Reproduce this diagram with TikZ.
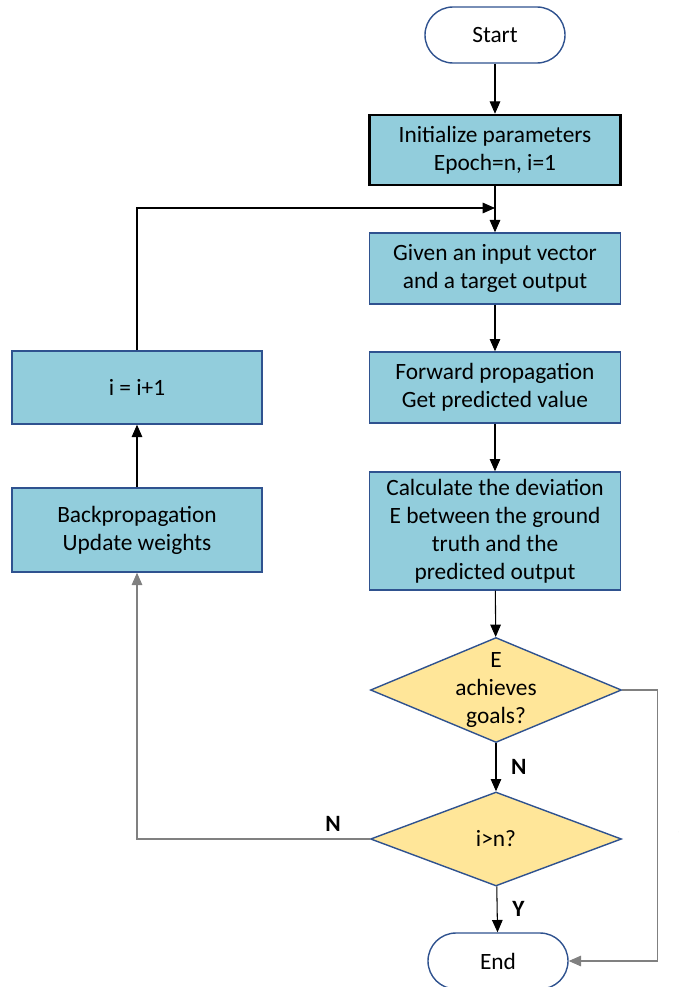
\documentclass[tikz,border=0pt]{standalone}
\usepackage{fontspec}
\setmainfont{Carlito}
\usetikzlibrary{shapes.geometric,arrows.meta}
\definecolor{boxfill}{RGB}{146,205,220}
\definecolor{boxline}{RGB}{47,82,143}
\definecolor{decfill}{RGB}{255,230,153}
\definecolor{graylink}{RGB}{128,128,128}

\begin{document}
\begin{tikzpicture}[
    every node/.style={font=\fontsize{13.3}{16}\selectfont},
    terminal/.style={draw=boxline, line width=0.8pt, rounded corners=0.56cm, fill=white,
        minimum width=2.8cm, minimum height=1.12cm},
    process/.style={draw=boxline, line width=0.8pt, fill=boxfill, align=center,
        minimum width=5.02cm, inner sep=2pt},
    decision/.style={draw=boxline, line width=0.8pt, fill=decfill, diamond, inner sep=0pt,
        minimum width=5.02cm},
    link/.style={line width=0.6pt, -{Triangle[width=6pt,length=7pt]}},
    flag/.style={font=\fontsize{13.3}{16}\selectfont\bfseries}
]
    \useasboundingbox (0,0) rectangle (13.58,-19.74);

    % Main column
    \node[terminal] (start) at (9.9,-0.7) {Start};
    \node[process, draw=black, line width=1.4pt, minimum height=1.4cm] (init) at (9.9,-3.0)
        {Initialize parameters\\Epoch=n, i=1};
    \coordinate (join) at (9.9,-4.16);
    \node[process, minimum height=1.42cm] (input) at (9.9,-5.37)
        {Given an input vector\\and a target output};
    \node[process, minimum height=1.42cm] (forward) at (9.9,-7.75)
        {Forward propagation\\Get predicted value};
    \node[process, minimum height=2.36cm] (deviation) at (9.9,-10.62)
        {Calculate the deviation\\E between the ground\\truth and the\\predicted output};
    \node[decision, minimum height=2.1cm,
        label={[align=center]center:E\\achieves\\goals?}] (goal) at (9.92,-13.8) {};
    \node[decision, minimum height=1.88cm,
        label={center:i>n?}] (epoch) at (9.92,-16.78) {};
    \node[terminal] (end) at (9.96,-19.22) {End};

    % Left column
    \node[process, minimum width=5.0cm, minimum height=1.46cm] (inc) at (2.74,-7.75) {i = i+1};
    \node[process, minimum width=5.0cm, minimum height=1.68cm] (back) at (2.74,-10.6)
        {Backpropagation\\Update weights};

    % Arrows
    \draw[link] (start) -- (init);
    \draw[line width=0.6pt] (init) -- (join);
    \draw[link] (join) -- (input);
    \draw[link] (input) -- (forward);
    \draw[link] (forward) -- (deviation);
    \draw[link] (deviation) -- (goal);
    \draw[link] (goal) -- (epoch) node[flag, midway, right=5pt] (gn) {N};
    \draw[link] (epoch) -- (end) node[flag, midway, right=5pt] (ey) {Y};
    \draw[link, graylink] (epoch.west) -| (back.south);
    \node[flag] (en) at (6.66,-16.48) {N};
    \draw[link] (back) -- (inc);
    \draw[link] (inc.north) |- (join);
    \draw[link, graylink] (goal.east) -- ++(0.7,0) |- (end.east);
    \node[flag, anchor=west] (gy) at (13.46,-16.8) {Y};
\end{tikzpicture}
\end{document}
